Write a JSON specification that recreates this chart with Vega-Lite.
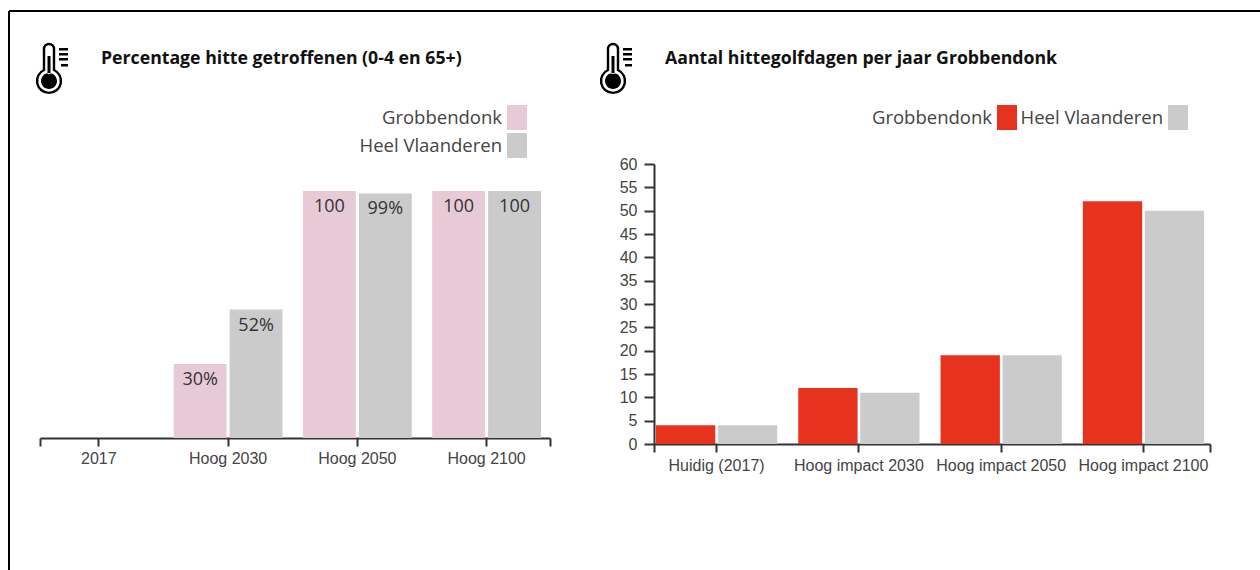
{
"$schema":"https://vega.github.io/schema/vega-lite/v6.json",
"padding":{"left":8,"top":10,"right":0,"bottom":0},
"background":"white",
"bounds":"flush",
"columns":2,
"align":{"row":"none","column":"each"},
"spacing":{"row":0,"column":104},
"config":{"view":{"stroke":null}},
"resolve":{"scale":{"color":"independent","xOffset":"independent"},"legend":{"color":"independent"}},
"datasets":{
"pct":[
{"scenario":"2017","gebied":"Grobbendonk","waarde":0,"label":""},
{"scenario":"2017","gebied":"Heel Vlaanderen","waarde":0,"label":""},
{"scenario":"Hoog 2030","gebied":"Grobbendonk","waarde":30,"label":"30%"},
{"scenario":"Hoog 2030","gebied":"Heel Vlaanderen","waarde":52,"label":"52%"},
{"scenario":"Hoog 2050","gebied":"Grobbendonk","waarde":100,"label":"100"},
{"scenario":"Hoog 2050","gebied":"Heel Vlaanderen","waarde":99,"label":"99%"},
{"scenario":"Hoog 2100","gebied":"Grobbendonk","waarde":100,"label":"100"},
{"scenario":"Hoog 2100","gebied":"Heel Vlaanderen","waarde":100,"label":"100"}],
"dagen":[
{"scenario":"Huidig (2017)","gebied":"Grobbendonk","waarde":4},
{"scenario":"Huidig (2017)","gebied":"Heel Vlaanderen","waarde":4},
{"scenario":"Hoog impact 2030","gebied":"Grobbendonk","waarde":12},
{"scenario":"Hoog impact 2030","gebied":"Heel Vlaanderen","waarde":11},
{"scenario":"Hoog impact 2050","gebied":"Grobbendonk","waarde":19},
{"scenario":"Hoog impact 2050","gebied":"Heel Vlaanderen","waarde":19},
{"scenario":"Hoog impact 2100","gebied":"Grobbendonk","waarde":52},
{"scenario":"Hoog impact 2100","gebied":"Heel Vlaanderen","waarde":50}]
},
"concat":[
 {"width":510,"height":154,"data":{"values":[{"t":"Percentage hitte getroffenen (0-4 en 65+)"}]},
  "layer":[
   {"mark":{"type":"rule","color":"black","strokeWidth":2},"encoding":{"x":{"datum":-31,"type":"quantitative","scale":{"domain":[0,510],"nice":false},"axis":null},"y":{"datum":1,"type":"quantitative","scale":{"domain":[0,154],"reverse":true,"nice":false},"axis":null},"x2":{"datum":1220}}},
   {"mark":{"type":"rule","color":"black","strokeWidth":2},"encoding":{"x":{"datum":-31,"type":"quantitative"},"y":{"datum":1,"type":"quantitative"},"y2":{"datum":560}}},
   {"mark":{"type":"point","filled":false,"stroke":"black","strokeWidth":2.4,"size":4,"opacity":1,"shape":"M-5,-10V-31A5,5 0 0 1 5,-31V-10A12,12 0 1 1 -5,-10Z"},"encoding":{"x":{"datum":9,"type":"quantitative"},"y":{"datum":70,"type":"quantitative"}}},
   {"mark":{"type":"point","filled":true,"fill":"black","size":4,"opacity":1,"shape":"M-8,1A8,8 0 1 0 8,1A8,8 0 1 0 -8,1ZM-1.5,-6V-24H1.5V-6ZM10,-32H19V-29.5H10ZM10,-27H19V-24.5H10ZM10,-22H19V-19.5H10ZM12,-16H19V-13.5H12Z"},"encoding":{"x":{"datum":9,"type":"quantitative"},"y":{"datum":70,"type":"quantitative"}}},
   {"mark":{"type":"text","font":"Open Sans","fontSize":17.7,"fontWeight":"bold","color":"#111","align":"left","baseline":"middle"},"encoding":{"text":{"field":"t"},"x":{"datum":61,"type":"quantitative"},"y":{"datum":48.5,"type":"quantitative"}}}
  ]},
 {"width":556,"height":154,"data":{"values":[{"t":"Aantal hittegolfdagen per jaar Grobbendonk"}]},
  "layer":[
   {"mark":{"type":"point","filled":false,"stroke":"black","strokeWidth":2.4,"size":4,"opacity":1,"shape":"M-5,-10V-31A5,5 0 0 1 5,-31V-10A12,12 0 1 1 -5,-10Z"},"encoding":{"x":{"datum":-41,"type":"quantitative","scale":{"domain":[0,556],"nice":false},"axis":null},"y":{"datum":70,"type":"quantitative","scale":{"domain":[0,154],"reverse":true,"nice":false},"axis":null}}},
   {"mark":{"type":"point","filled":true,"fill":"black","size":4,"opacity":1,"shape":"M-8,1A8,8 0 1 0 8,1A8,8 0 1 0 -8,1ZM-1.5,-6V-24H1.5V-6ZM10,-32H19V-29.5H10ZM10,-27H19V-24.5H10ZM10,-22H19V-19.5H10ZM12,-16H19V-13.5H12Z"},"encoding":{"x":{"datum":-41,"type":"quantitative"},"y":{"datum":70,"type":"quantitative"}}},
   {"mark":{"type":"text","font":"Open Sans","fontSize":17.7,"fontWeight":"bold","color":"#111","align":"left","baseline":"middle"},"encoding":{"text":{"field":"t"},"x":{"datum":11,"type":"quantitative"},"y":{"datum":48.5,"type":"quantitative"}}}
  ]},
 {"width":510,"height":274,"data":{"name":"pct"},
  "resolve":{"scale":{"x":"independent"}},
  "layer":[
   {"layer":[
    {"mark":{"type":"bar"},"encoding":{"y":{"field":"waarde","type":"quantitative"}}},
    {"mark":{"type":"text","font":"Open Sans","fontSize":18,"baseline":"top","dy":7},"encoding":{"y":{"field":"waarde","type":"quantitative"},"text":{"field":"label"},"color":{"value":"#333"}}}
   ],
   "encoding":{
    "x":{"field":"scenario","type":"nominal","sort":null,"title":null,"scale":{"paddingInner":0.158,"paddingOuter":0.052,"align":0.33},"axis":{"labelAngle":0,"labelFont":"Liberation Sans","labelFontSize":16,"labelColor":"#444","labelPadding":4,"tickColor":"#333","domainColor":"#333","tickSize":8,"domainWidth":2,"tickWidth":2}},
    "xOffset":{"field":"gebied","sort":null,"scale":{"paddingInner":0.055}},
    "y":{"field":"waarde","type":"quantitative","title":null,"scale":{"domain":[0,110.9],"nice":false},"axis":null},
    "color":{"field":"gebied","type":"nominal","sort":null,"scale":{"domain":["Grobbendonk","Heel Vlaanderen"],"range":["#e8cad7","#cbcbcb"]},"legend":{"title":null,"orient":"none","legendX":464.5,"legendY":-59,"direction":"vertical","symbolType":"M-0.8,-1H0.8V1H-0.8Z","symbolSize":625,"symbolOpacity":1,"labelAlign":"right","labelOffset":-27.5,"labelFont":"Open Sans","labelFontSize":18.5,"labelColor":"#444","labelLimit":300,"rowPadding":3,"symbolStrokeWidth":0}}
   }},
   {"mark":{"type":"rule","opacity":0},"encoding":{"x":{"datum":0,"type":"quantitative","scale":{"domain":[0,1],"nice":false},"axis":{"orient":"bottom","title":null,"values":[0,1],"labels":false,"domain":false,"tickColor":"#333","tickSize":8,"tickWidth":2,"grid":false}}}}
  ]},
 {"width":556,"height":280,"data":{"name":"dagen"},
  "resolve":{"scale":{"x":"independent"}},
  "layer":[
   {"mark":{"type":"bar"},
   "encoding":{
    "x":{"field":"scenario","type":"nominal","sort":null,"title":null,"scale":{"paddingInner":0.148,"paddingOuter":0.0277,"align":0.25},"axis":{"labelAngle":0,"labelFont":"Liberation Sans","labelFontSize":16,"labelColor":"#444","labelPadding":5,"labelLimit":200,"tickColor":"#333","domainColor":"#333","tickSize":8,"domainWidth":2,"tickWidth":2}},
    "xOffset":{"field":"gebied","sort":null,"scale":{"paddingInner":0.042}},
    "y":{"field":"waarde","type":"quantitative","title":null,"scale":{"domain":[0,60],"nice":false},"axis":{"values":[0,5,10,15,20,25,30,35,40,45,50,55,60],"grid":false,"labelFont":"Liberation Sans","labelFontSize":16,"labelColor":"#444","tickColor":"#333","domainColor":"#333","tickSize":10,"domainWidth":2,"tickWidth":2,"labelPadding":7}},
    "color":{"field":"gebied","type":"nominal","sort":null,"scale":{"domain":["Grobbendonk","Heel Vlaanderen"],"range":["#e7321e","#cbcbcb"]},"legend":{"title":null,"orient":"none","legendX":340.5,"legendY":-59,"direction":"horizontal","columns":2,"symbolType":"M-0.8,-1H0.8V1H-0.8Z","symbolSize":625,"symbolOpacity":1,"labelAlign":"right","labelOffset":-27.5,"labelFont":"Open Sans","labelFontSize":18.5,"labelColor":"#444","labelLimit":300,"columnPadding":3,"symbolStrokeWidth":0}}
   }},
   {"mark":{"type":"rule","opacity":0},"encoding":{"x":{"datum":0,"type":"quantitative","scale":{"domain":[0,1],"nice":false},"axis":{"orient":"bottom","title":null,"values":[0,1],"labels":false,"domain":false,"tickColor":"#333","tickSize":8,"tickWidth":2,"grid":false}}}}
  ]}
]}
